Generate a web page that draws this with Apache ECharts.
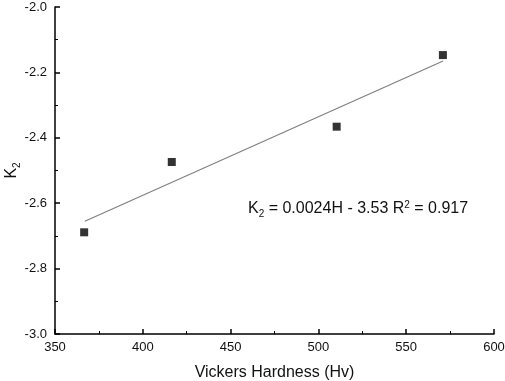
<!DOCTYPE html>
<html>
<head>
<meta charset="utf-8">
<script src="https://cdn.jsdelivr.net/npm/echarts@6/dist/echarts.min.js"></script>
<style>
  html, body { margin: 0; padding: 0; background: #fff; }
  #main { width: 505px; height: 381px; }
</style>
</head>
<body>
<div id="main"></div>
<script>
// measured points (Vickers hardness, K2)
var hardness = [366.6, 416.5, 510.4, 570.9]
var k2 = [-2.689, -2.474, -2.366, -2.147]
// fitted line end points
var fitX = [367, 571]
var fitY = [-2.655, -2.165]

var xTicks = [350, 400, 450, 500, 550, 600]
var yTicks = [-3.0, -2.8, -2.6, -2.4, -2.2, -2.0]

var font = 'Liberation Sans, Arial, sans-serif'

var myChart = echarts.init(document.getElementById('main'))

var axisCommon = {
  axisLine: { lineStyle: { color: '#000', width: 1.5 } },
  axisTick: { inside: true, length: 5, lineStyle: { color: '#000', width: 1.5 } },
  minorTick: { show: true, splitNumber: 2, length: 3, lineStyle: { color: '#000', width: 1 } },
  splitLine: { show: false },
  axisLabel: { color: '#111', fontFamily: font, fontSize: 13 },
}

var option = {
  animation: false,
  backgroundColor: '#fff',
  grid: {
    left: 55,
    right: 11,
    top: 7,
    bottom: 47,
    outerBoundsMode: 'none',
  },
  xAxis: Object.assign({}, axisCommon, {
    type: 'value',
    min: xTicks[0],
    max: xTicks[xTicks.length - 1],
    interval: 50,
    name: 'Vickers Hardness (Hv)',
    nameLocation: 'middle',
    nameGap: 31,
    nameMoveOverlap: false,
    nameTextStyle: { color: '#111', fontFamily: font, fontSize: 16 },
    axisLabel: Object.assign({}, axisCommon.axisLabel, { margin: 7 }),
  }),
  yAxis: Object.assign({}, axisCommon, {
    type: 'value',
    min: yTicks[0],
    max: yTicks[yTicks.length - 1],
    interval: 0.2,
    name: 'K{s|2}',
    nameLocation: 'middle',
    nameRotate: 90,
    nameGap: 33,
    nameMoveOverlap: false,
    nameTextStyle: {
      color: '#111',
      fontFamily: font,
      fontSize: 16,
      rich: {
        s: { fontFamily: font, fontSize: 10, color: '#111', padding: [10, 0, 0, 0] },
      },
    },
    axisLabel: Object.assign({}, axisCommon.axisLabel, {
      margin: 8,
      formatter: function (v) { return v.toFixed(1) },
    }),
  }),
  series: [
    {
      type: 'scatter',
      symbol: 'rect',
      symbolSize: 8,
      itemStyle: { color: '#000' },
      data: hardness.map(function (h, i) { return [h, k2[i]] }),
      z: 3,
    },
    {
      type: 'line',
      symbol: 'none',
      lineStyle: { color: '#808080', width: 1.2 },
      data: fitX.map(function (h, i) { return [h, fitY[i]] }),
      z: 2,
    },
  ],
  graphic: [
    {
      type: 'text',
      left: 248,
      top: 200,
      style: {
        text: 'K{s|2} = 0.0024H - 3.53 R{p|2} = 0.917',
        fill: '#111',
        font: '16px ' + font,
        rich: {
          s: { fontSize: 10, fill: '#111', padding: [10, 0, 0, 0] },
          p: { fontSize: 10, fill: '#111', padding: [0, 0, 8, 0] },
        },
      },
    },
  ],
}

option && myChart.setOption(option)
window.addEventListener('resize', function () {
  myChart.resize()
})
</script>
</body>
</html>
